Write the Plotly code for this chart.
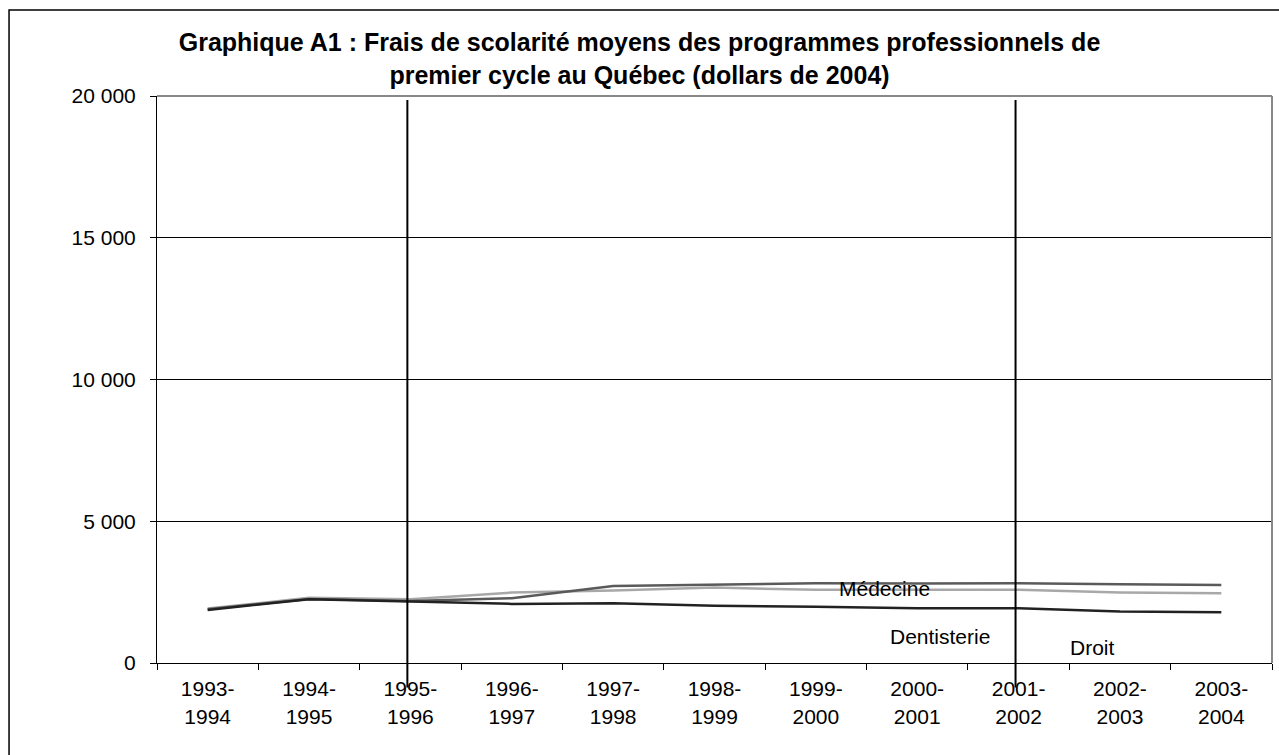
import plotly.graph_objects as go

# Annees scolaires (categories de l'axe X)
annees = ['1993-<br>1994', '1994-<br>1995', '1995-<br>1996', '1996-<br>1997',
          '1997-<br>1998', '1998-<br>1999', '1999-<br>2000', '2000-<br>2001',
          '2001-<br>2002', '2002-<br>2003', '2003-<br>2004']

# Frais moyens (dollars de 2004)
medecine = [1900, 2260, 2190, 2285, 2720, 2780, 2815, 2800, 2815, 2780, 2755]
dentisterie = [1920, 2300, 2250, 2485, 2555, 2660, 2580, 2580, 2580, 2485, 2460]
droit = [1870, 2250, 2170, 2085, 2110, 2015, 1980, 1930, 1930, 1815, 1790]

y_ticks = [0, 5000, 10000, 15000, 20000]
y_labels = ['0', '5 000', '10 000', '15 000', '20 000']

# Reperes verticaux (1995-1996 et 2001-2002)
reperes = [2, 8]

font = 'Liberation Sans, Arial, sans-serif'

fig = go.Figure()

fig.add_trace(go.Scatter(x=annees, y=dentisterie, mode='lines',
                         line=dict(color='#a8a8a8', width=2.5), name='Dentisterie'))
fig.add_trace(go.Scatter(x=annees, y=medecine, mode='lines',
                         line=dict(color='#5a5a5a', width=2.5), name='Médecine'))
fig.add_trace(go.Scatter(x=annees, y=droit, mode='lines',
                         line=dict(color='#222222', width=2.5), name='Droit'))

# Cadre exterieur
fig.add_shape(type='rect', xref='paper', yref='paper', x0=-0.1327, x1=1.2, y0=-0.3, y1=1.1517,
              line=dict(color='black', width=1.5), fillcolor='rgba(0,0,0,0)', layer='below')
# Bordure grise de la zone de tracé (haut et droite)
fig.add_shape(type='line', xref='paper', yref='paper', x0=0, x1=1, y0=1, y1=1,
              line=dict(color='#888888', width=2))
fig.add_shape(type='line', xref='paper', yref='paper', x0=1, x1=1, y0=0, y1=1,
              line=dict(color='#888888', width=2))

for r in reperes:
    fig.add_shape(type='line', xref='x', yref='paper', x0=r - 0.03, x1=r - 0.03,
                  y0=-0.043, y1=0.993, line=dict(color='black', width=2))

fig.add_annotation(x=6.68, y=2615, text='Médecine', showarrow=False,
                   font=dict(size=21, color='black', family=font))
fig.add_annotation(x=7.22, y=950, text='Dentisterie', showarrow=False,
                   font=dict(size=21, color='black', family=font))
fig.add_annotation(x=8.73, y=530, text='Droit', showarrow=False,
                   font=dict(size=21, color='black', family=font))

fig.update_layout(
    width=1279, height=755,
    margin=dict(l=157, r=7, t=96, b=92),
    paper_bgcolor='white', plot_bgcolor='white',
    showlegend=False,
    font=dict(family=font, size=21, color='black'),
    title=dict(text='<b>Graphique A1 : Frais de scolarité moyens des programmes professionnels de<br>'
                    'premier cycle au Québec (dollars de 2004)</b>',
               x=0.5, xref='container', xanchor='center', y=0.932, yref='container',
               yanchor='middle',
               font=dict(size=25, family=font, color='black')),
    xaxis=dict(type='category', range=[-0.5, len(annees) - 0.5], showgrid=False, zeroline=False,
               showline=True, linecolor='black', linewidth=1, tickson='boundaries',
               ticks='outside', ticklen=6, tickcolor='black', tickfont=dict(size=21),
               ticklabelstandoff=7),
    yaxis=dict(range=[0, 20000], tickmode='array', tickvals=y_ticks, ticktext=y_labels,
               showgrid=True, gridcolor='black', gridwidth=1, zeroline=False,
               showline=True, linecolor='black', linewidth=1,
               ticks='outside', ticklen=6, tickcolor='black', tickfont=dict(size=21),
               ticklabelstandoff=10),
)

fig.write_html('out.html', config={'displayModeBar': False},
               post_script="document.body.style.margin='0';document.body.style.overflow='hidden';")
